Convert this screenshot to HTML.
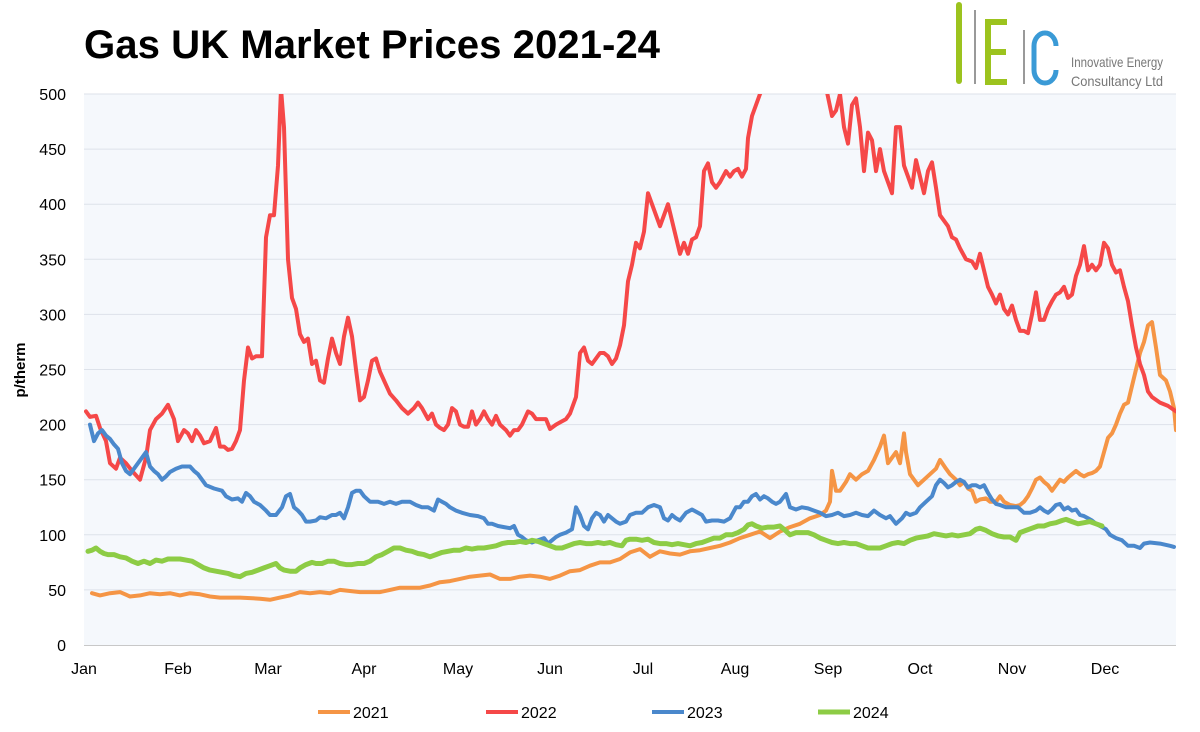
<!DOCTYPE html>
<html><head><meta charset="utf-8"><style>
html,body{margin:0;padding:0;background:#fff;}
svg{display:block;font-family:"Liberation Sans",sans-serif;}
</style></head><body>
<svg id="s" width="1200" height="732" viewBox="0 0 1200 732">
<rect x="84" y="94" width="1092" height="551" fill="#f5f8fc"/>
<g id="grid" stroke="#dde2ea" stroke-width="1"></g>
<line x1="84" y1="645.5" x2="1176" y2="645.5" stroke="#c8c8c8"/>
<text x="84" y="58" font-size="40" font-weight="bold" fill="#000" textLength="576" lengthAdjust="spacingAndGlyphs">Gas UK Market Prices 2021-24</text>
<g id="yl" font-size="16" fill="#000" text-anchor="end"></g>
<text transform="translate(25,370) rotate(-90)" font-size="15" font-weight="bold" text-anchor="middle">p/therm</text>
<g font-size="16" fill="#000" text-anchor="middle">
<text x="84" y="674">Jan</text><text x="178" y="674">Feb</text><text x="268" y="674">Mar</text><text x="364" y="674">Apr</text><text x="458" y="674">May</text><text x="550" y="674">Jun</text><text x="643" y="674">Jul</text><text x="735" y="674">Aug</text><text x="828" y="674">Sep</text><text x="920" y="674">Oct</text><text x="1012" y="674">Nov</text><text x="1105" y="674">Dec</text>
</g>
<g font-size="16" fill="#000">
<line x1="318" y1="712" x2="350" y2="712" stroke="#f59545" stroke-width="4"/><text x="353" y="718">2021</text>
<line x1="486" y1="712" x2="518" y2="712" stroke="#f54848" stroke-width="4"/><text x="521" y="718">2022</text>
<line x1="652" y1="712" x2="684" y2="712" stroke="#4a88cc" stroke-width="4"/><text x="687" y="718">2023</text>
<line x1="818" y1="712" x2="850" y2="712" stroke="#8dcc45" stroke-width="5"/><text x="853" y="718">2024</text>
</g>
<rect x="956" y="2" width="6" height="82" rx="3" fill="#9cc31e"/>
<rect x="974" y="10" width="2" height="74" fill="#999"/>
<path d="M1007,22 H988 V82 H1007 M988,52 H1006" fill="none" stroke="#9cc31e" stroke-width="6"/>
<rect x="1023" y="30" width="2" height="54" fill="#999"/>
<path d="M1056,46 A11,13 0 0 0 1034,46 V70 A11,13 0 0 0 1056,70" fill="none" stroke="#3a9ad6" stroke-width="5"/>
<text x="1071" y="67" font-size="14" fill="#777" textLength="92" lengthAdjust="spacingAndGlyphs">Innovative Energy</text>
<text x="1071" y="86" font-size="14" fill="#777" textLength="92" lengthAdjust="spacingAndGlyphs">Consultancy Ltd</text>
<defs><clipPath id="c"><rect x="84" y="94" width="1092" height="552"/></clipPath></defs>
<g id="lines" clip-path="url(#c)" fill="none" stroke-linejoin="round" stroke-linecap="round"></g>
</svg>
<script>
var ns="http://www.w3.org/2000/svg";
var g=document.getElementById('grid'),yl=document.getElementById('yl');
for(var v=0;v<=500;v+=50){var y=645-v*1.102;
if(v>0){var l=document.createElementNS(ns,'line');l.setAttribute('x1',84);l.setAttribute('x2',1176);l.setAttribute('y1',y);l.setAttribute('y2',y);g.appendChild(l);}
var t=document.createElementNS(ns,'text');t.setAttribute('x',66);t.setAttribute('y',y+6);t.textContent=v;yl.appendChild(t);}
function P(a,col,w){var s="";for(var i=0;i<a.length;i+=2){s+=(i?" ":"")+a[i]+","+(645-a[i+1]*1.102).toFixed(1);}
var p=document.createElementNS(ns,'polyline');p.setAttribute('points',s);p.setAttribute('stroke',col);p.setAttribute('stroke-width',w);document.getElementById('lines').appendChild(p);}
var o=[92,47,100,45,110,47,120,48,130,44,140,45,150,47,160,46,170,47,180,45,190,47,200,46,210,44,220,43,240,43,260,42,270,41,280,43,290,45,300,48,310,47,320,48,330,47,340,50,350,49,360,48,370,48,380,48,390,50,400,52,410,52,420,52,430,54,440,57,450,58,460,60,470,62,480,63,490,64,500,60,510,60,520,62,530,63,540,62,550,60,560,63,570,67,580,68,590,72,600,75,610,75,620,78,630,84,640,87,650,80,660,85,670,83,680,82,690,85,700,86,710,88,720,90,730,93,740,97,750,100,760,103,770,97,780,103,790,107,800,110,810,115,820,118,826,122,830,130,832,158,836,140,840,140,846,148,850,155,856,150,862,155,868,158,874,168,880,180,884,190,888,165,892,170,896,175,900,165,904,192,906,175,910,155,914,150,918,145,924,150,930,155,936,160,940,168,946,160,950,155,956,150,960,145,964,148,968,142,972,140,976,130,980,132,986,133,990,130,996,130,1000,135,1004,130,1010,127,1016,126,1020,127,1024,130,1028,135,1032,142,1036,150,1040,152,1044,148,1048,145,1052,140,1056,145,1060,150,1064,148,1068,152,1072,155,1076,158,1080,155,1084,153,1088,155,1092,156,1096,158,1100,162,1104,175,1108,188,1112,192,1116,200,1120,210,1124,218,1128,220,1132,235,1136,250,1140,265,1144,275,1148,290,1152,293,1156,270,1160,245,1166,240,1170,230,1174,215,1176,195];
var r1=[86,212,90,207,96,208,100,197,106,185,110,165,116,160,120,170,126,165,132,158,140,150,146,170,150,195,156,205,162,210,168,218,174,205,178,185,184,195,188,192,192,185,196,195,200,190,204,183,210,185,216,197,220,180,224,180,228,177,232,178,236,185,240,195,244,240,248,270,252,260,256,262,262,262,266,370,270,390,274,390,278,435,281,505,284,470,288,350,292,315,296,305,300,282,304,275,308,278,312,255,316,258,320,240,324,238,328,260,332,278,336,265,340,255,344,280,348,297,352,280,356,250,360,222,364,225,368,240,372,258,376,260,380,248,384,240,390,228,396,222,402,215,408,210,414,215,418,220,422,215,428,205,432,210,436,200,440,197,444,195,448,200,452,215,456,212,460,200,464,198,468,198,472,212,476,200,480,205,484,212,488,205,492,200,496,208,500,200,506,195,510,190,514,195,518,195,522,200,528,212,532,210,536,205,540,205,546,205,550,196,556,200,560,202,566,205,570,210,576,225,580,265,584,270,588,258,592,255,596,260,600,265,604,265,608,262,612,255,616,260,620,272,624,290,628,330,632,345,636,365,640,360,644,375,648,410,652,400,656,390,660,380,664,390,668,400,672,385,676,370,680,355,684,365,688,355,692,368,696,370,700,380,704,430,708,437,712,420,716,415,720,420,726,430,730,425,734,430,738,432,742,425,746,432,748,460,752,480,756,490,760,500,763,506];
var r2=[826,506,832,480,836,485,840,500,844,470,848,455,852,490,856,496,860,470,864,430,868,465,872,458,876,430,880,450,884,430,888,420,892,410,896,470,900,470,904,435,908,425,912,415,916,440,920,425,924,410,928,430,932,438,936,415,940,390,944,385,948,380,952,370,956,368,960,360,966,350,972,348,976,342,980,355,984,340,988,325,992,318,996,310,1000,318,1004,305,1008,300,1012,308,1016,295,1020,285,1024,285,1028,283,1032,300,1036,320,1040,295,1044,295,1048,305,1052,312,1056,318,1060,320,1064,325,1068,315,1072,318,1076,335,1080,345,1084,362,1088,340,1092,345,1096,340,1100,345,1104,365,1108,360,1112,345,1116,338,1120,340,1124,325,1128,312,1132,290,1136,270,1140,255,1144,245,1148,230,1152,225,1160,220,1168,217,1176,212];
var b=[90,200,94,185,98,192,102,195,106,190,110,187,114,182,118,178,122,165,126,158,130,155,134,160,138,165,142,170,146,175,150,162,154,158,158,155,162,150,166,153,170,157,176,160,182,162,190,162,194,158,198,155,202,150,206,145,214,142,222,140,226,135,232,132,238,133,242,130,246,138,250,135,254,130,260,127,266,122,270,118,276,118,282,125,286,135,290,137,294,125,298,122,302,118,306,112,310,112,316,113,320,116,326,115,332,118,336,118,340,120,344,115,348,125,352,138,356,140,360,140,364,135,370,130,378,130,384,128,390,130,396,128,402,130,410,130,416,127,422,125,428,125,434,122,438,132,442,130,446,128,450,125,456,122,462,120,470,118,478,117,484,115,488,110,492,110,498,108,504,107,510,106,514,108,518,100,522,98,526,95,532,93,538,95,544,97,548,92,552,95,556,98,560,100,566,102,572,105,576,125,580,118,584,108,588,105,592,115,596,120,600,118,604,112,608,118,612,115,616,112,620,110,626,112,630,118,636,120,642,120,648,125,654,127,660,125,664,115,668,113,672,118,676,115,680,113,686,120,692,123,698,120,702,118,706,112,712,113,718,113,724,112,730,115,736,125,740,125,744,130,748,130,752,135,756,137,760,132,764,135,768,133,772,130,776,128,780,130,786,137,790,125,796,123,802,125,808,124,814,122,820,120,826,117,832,118,838,120,844,117,850,118,856,120,862,118,868,117,874,122,880,118,886,115,890,117,896,110,902,115,906,120,910,118,916,120,920,125,926,130,932,135,936,145,940,150,944,147,948,143,952,145,956,148,960,150,964,148,968,143,972,145,976,145,980,143,984,145,988,138,992,132,996,128,1000,127,1006,125,1012,125,1018,125,1024,120,1030,120,1036,122,1040,125,1044,122,1048,120,1052,123,1056,127,1060,128,1064,123,1068,125,1072,122,1076,123,1080,118,1084,117,1088,115,1092,113,1096,110,1100,108,1106,105,1110,100,1116,97,1122,95,1128,90,1134,90,1140,88,1144,92,1150,93,1160,92,1170,90,1174,89];
var gr=[88,85,92,86,96,88,100,85,104,83,108,82,114,82,120,80,126,79,132,76,138,74,144,76,150,74,156,77,162,76,168,78,174,78,180,78,186,77,192,76,198,73,204,70,210,68,216,67,222,66,228,65,234,63,240,62,246,65,252,66,258,68,264,70,270,72,276,74,280,70,284,68,290,67,296,67,300,70,306,73,312,75,316,74,322,74,328,76,334,76,340,74,346,73,352,73,358,74,364,74,370,76,376,80,382,82,388,85,394,88,400,88,406,86,412,85,418,83,424,82,430,80,436,82,442,84,448,85,454,86,460,86,466,88,472,87,478,88,484,88,490,89,496,90,502,92,508,93,514,93,520,94,526,93,532,95,538,94,544,92,550,90,556,88,562,88,568,90,574,92,580,93,586,92,592,92,598,93,604,92,610,93,616,91,622,90,626,95,630,96,636,96,642,95,648,96,654,93,660,92,666,92,672,91,678,92,684,91,690,90,696,92,702,93,708,95,714,97,720,97,726,100,732,100,738,102,744,105,748,109,752,110,756,108,762,106,768,107,774,107,780,108,784,105,790,100,796,102,802,102,808,102,814,100,820,97,826,95,832,93,838,92,844,93,850,92,856,92,862,90,868,88,874,88,880,88,886,90,892,92,898,93,904,92,910,95,916,97,922,98,928,99,934,101,940,100,946,99,952,100,958,99,964,100,970,101,976,105,980,106,986,104,992,101,998,99,1004,98,1010,98,1016,95,1020,102,1026,104,1032,106,1038,108,1044,108,1050,110,1056,111,1062,113,1066,114,1072,112,1078,110,1084,111,1090,112,1096,110,1102,108];
P(o,'#f59545',4);P(r1,'#f54848',4);P(r2,'#f54848',4);P(b,'#4a88cc',4);P(gr,'#8dcc45',5);
</script>
</body></html>
